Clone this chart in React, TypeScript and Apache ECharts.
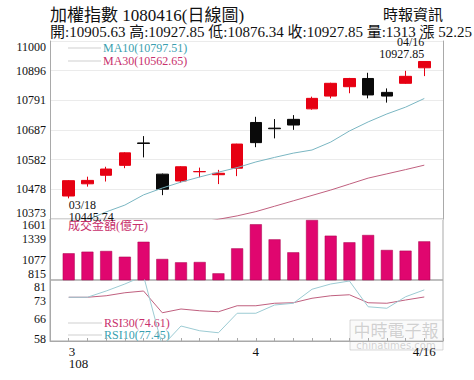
import React, { useEffect, useRef } from 'react';
import * as echarts from 'echarts';

const dates = ['03/18', '03/19', '03/20', '03/21', '03/22', '03/25', '03/26', '03/27', '03/28', '03/29',
  '04/01', '04/02', '04/03', '04/08', '04/09', '04/10', '04/11', '04/12', '04/15', '04/16'];
const openP = [10454, 10497, 10527, 10562, 10641, 10531, 10507, 10539.5, 10529, 10552,
  10713, 10693, 10724, 10761, 10806, 10839, 10868, 10819, 10851, 10905.63];
const closeP = [10508, 10509, 10549, 10606, 10639, 10478, 10557, 10540, 10534, 10637,
  10642, 10691, 10704, 10798, 10851, 10868, 10810, 10806, 10875.6, 10927.85];
const lowP = [10445.74, 10487, 10505, 10552, 10590, 10457, 10501, 10520, 10496, 10524,
  10626, 10657, 10687, 10758, 10798, 10816, 10798, 10783, 10849, 10876.34];
const highP = [10510, 10522, 10557, 10608, 10665, 10533, 10559, 10554, 10546, 10638,
  10733, 10725, 10739, 10804, 10853, 10870, 10888, 10833, 10895, 10927.85];
const ma10 = [10340, 10370, 10398, 10422, 10458, 10482, 10503, 10521, 10538, 10554,
  10574, 10590, 10605, 10616, 10644, 10683, 10715, 10743, 10767, 10797.51];
const ma30: (number | null)[] = [null, null, null, null, null, null, null, 10360, 10372, 10384,
  10399, 10418, 10437, 10456, 10475, 10496, 10517, 10532, 10547, 10562.65];
const volume = [1159, 1180, 1189, 1115, 1308, 1086, 1043, 1047, 901, 1223,
  1533, 1339, 1172, 1588, 1386, 1301, 1395, 1202, 1193, 1313];
const rsi30 = [74.5, 74.5, 75.1, 76.3, 77.0, 68.3, 69.8, 69.1, 68.7, 71.1,
  71.1, 72.1, 72.3, 74.1, 75.1, 75.5, 72.3, 72.1, 73.4, 74.61];
const rsi10 = [74.5, 74.5, 77.0, 79.8, 83.0, 55.0, 63.0, 61.1, 60.3, 68.1,
  68.1, 71.4, 72.1, 77.7, 79.8, 81.0, 70.7, 70.1, 74.7, 77.45];

const priceTicks = [10373, 10478, 10582, 10687, 10791, 10896, 11000];
const volTicks = [815, 1077, 1339, 1601];
const rsiTicks = [58, 66, 73, 81];
const rsiRange = [57, 81.4];
const xTickIdx = [1, 11, 20];
const xTickText = ['3\n108', '4', '4/16'];

const FONT = "'Liberation Serif', 'Noto Sans CJK TC', serif";
const GRAY = '#a9a9a9';
const RED = '#e60012';
const TEAL_T = '#3a9fb0';
const PINK_T = '#c8306c';
const MA10_C = '#7ab6c2';
const MA30_C = '#c0607f';
const VOL_C = '#e0066f';

export default function App() {
  const ref = useRef<HTMLDivElement>(null);
  useEffect(() => {
    document.body.style.margin = '0';
    const chart = echarts.init(ref.current!, undefined, { renderer: 'svg' });
    const cats = ['pre', ...dates, 'post'];
    const pad = (a: any[]) => ['-', ...a.map((v) => (v == null ? '-' : v)), '-'];
    const candles = ['-', ...dates.map((_, i) => [openP[i], closeP[i], lowP[i], highP[i]]), '-'];
    const n = dates.length;
    let lowIdx = 0, highIdx = 0;
    lowP.forEach((v, i) => { if (v < lowP[lowIdx]) lowIdx = i; });
    highP.forEach((v, i) => { if (v >= highP[highIdx]) highIdx = i; });

    const edgeFmt = (lo: number, hi: number) => (v: number) => {
      const r = Math.round(v);
      if (r === hi) return '\n' + r;
      if (r === lo) return r + '\n';
      return String(r);
    };
    const yLabel = (ticks: number[], lo: number, hi: number) => ({
      customValues: ticks,
      formatter: edgeFmt(lo, hi),
      margin: 4,
      color: '#111',
      fontFamily: FONT,
      fontSize: 12,
      lineHeight: 12,
    });
    const last = n - 1;
    const chg = (closeP[last] - closeP[last - 1]).toFixed(2);
    const info = `開:${openP[last].toFixed(2)} 高:${highP[last].toFixed(2)} 低:${lowP[last].toFixed(2)} 收:${closeP[last].toFixed(2)} 量:${volume[last]} 漲 ${chg}`;

    const legendItem = (y: number, text: string, color: string, x0: number) => [
      { type: 'line', shape: { x1: 68, y1: y, x2: x0 - 2, y2: y }, style: { stroke: '#cfcfcf', lineWidth: 1 } },
      { type: 'text', x: x0, y, style: { text, fill: color, font: `12px ${FONT}`, textVerticalAlign: 'middle' } },
    ];

    chart.setOption({
      animation: false,
      backgroundColor: '#fff',
      grid: [
        { left: 50, right: 31, top: 41, height: 178 },
        { left: 50, right: 31, top: 219, height: 61, show: true, borderColor: GRAY, borderWidth: 1 },
        { left: 50, right: 31, top: 280, height: 61, show: true, borderColor: GRAY, borderWidth: 1 },
      ],
      xAxis: [
        { gridIndex: 0, type: 'category', data: cats, boundaryGap: false, axisLine: { show: false }, axisTick: { show: false }, axisLabel: { show: false }, splitLine: { show: false } },
        {
          gridIndex: 1, type: 'category', data: cats, boundaryGap: false, position: 'bottom', offset: 61,
          axisLine: { show: false }, axisTick: { show: false }, splitLine: { show: false },
          axisLabel: {
            interval: 0, align: 'left', margin: 4, color: '#111', fontFamily: FONT, fontSize: 13, lineHeight: 12,
            padding: [0, 0, 0, 0],
            formatter: (_v: string, i: number) => (i === xTickIdx[0] ? xTickText[0] : ''),
          },
        },
        {
          gridIndex: 2, type: 'category', data: cats, boundaryGap: false,
          axisLine: { show: true, lineStyle: { color: GRAY } },
          axisTick: { show: true, inside: true, length: 3, interval: 0, lineStyle: { color: GRAY } },
          splitLine: { show: false },
          axisLabel: {
            interval: 0, margin: 4, color: '#111', fontFamily: FONT, fontSize: 13, lineHeight: 12,
            formatter: (_v: string, i: number) => {
              const k = xTickIdx.indexOf(i);
              return k > 0 ? xTickText[k] : '';
            },
          },
        },
      ],
      yAxis: [
        {
          gridIndex: 0, type: 'value', min: priceTicks[0], max: priceTicks[priceTicks.length - 1], interval: 104.5,
          axisLine: { show: true, lineStyle: { color: GRAY } }, axisTick: { show: false },
          axisLabel: yLabel(priceTicks, priceTicks[0], priceTicks[priceTicks.length - 1]),
          splitLine: { show: true, lineStyle: { color: '#ebebeb', width: 1 } },
        },
        {
          gridIndex: 1, type: 'value', min: volTicks[0], max: volTicks[volTicks.length - 1], interval: 262,
          axisLine: { show: true, lineStyle: { color: GRAY } }, axisTick: { show: false },
          axisLabel: yLabel(volTicks, volTicks[0], volTicks[volTicks.length - 1]),
          splitLine: { show: false },
        },
        {
          gridIndex: 2, type: 'value', min: rsiRange[0], max: rsiRange[1],
          axisLine: { show: true, lineStyle: { color: GRAY } }, axisTick: { show: false },
          axisLabel: yLabel(rsiTicks, -1, rsiTicks[rsiTicks.length - 1]),
          splitLine: { show: false },
        },
        {
          gridIndex: 0, type: 'value', position: 'right', min: priceTicks[0], max: priceTicks[priceTicks.length - 1], interval: 104.5,
          axisLine: { show: true, lineStyle: { color: GRAY } }, axisTick: { show: false },
          axisLabel: { show: false }, splitLine: { show: false },
        },
      ],
      series: [
        {
          type: 'candlestick', xAxisIndex: 0, yAxisIndex: 0, data: candles, barWidth: 12,
          itemStyle: { color: RED, color0: '#0a0a0a', borderColor: RED, borderColor0: '#0a0a0a', borderWidth: 1 },
          markPoint: {
            symbol: 'rect', symbolSize: 0, silent: true,
            label: { show: true, color: '#111', fontFamily: FONT, fontSize: 12, lineHeight: 12 },
            data: [
              {
                coord: [dates[lowIdx], lowP[lowIdx]],
                label: { position: 'bottom', align: 'left', distance: 1, formatter: `${dates[lowIdx]}\n${lowP[lowIdx].toFixed(2)}` },
              },
              {
                coord: [dates[highIdx], highP[highIdx]],
                label: { position: 'top', align: 'right', distance: 1, formatter: `${dates[highIdx]}\n${highP[highIdx].toFixed(2)}` },
              },
            ],
          },
        },
        { type: 'line', xAxisIndex: 0, yAxisIndex: 0, data: pad(ma10), symbol: 'none', clip: true, lineStyle: { color: MA10_C, width: 1 } },
        { type: 'line', xAxisIndex: 0, yAxisIndex: 0, data: pad(ma30), symbol: 'none', clip: true, lineStyle: { color: MA30_C, width: 1 } },
        {
          type: 'bar', xAxisIndex: 1, yAxisIndex: 1, data: pad(volume), barWidth: 12, clip: true,
          itemStyle: { color: VOL_C, borderColor: '#a8004c', borderWidth: 0.5 },
        },
        { type: 'line', xAxisIndex: 2, yAxisIndex: 2, data: pad(rsi30), symbol: 'none', clip: true, lineStyle: { color: MA30_C, width: 1 } },
        { type: 'line', xAxisIndex: 2, yAxisIndex: 2, data: pad(rsi10), symbol: 'none', clip: true, lineStyle: { color: '#9ccbd3', width: 1 } },
      ],
      graphic: [
        { type: 'text', x: 50, y: 15, style: { text: '加權指數 1080416(日線圖)', fill: '#111', font: `17px ${FONT}`, textVerticalAlign: 'middle' } },
        { type: 'text', x: 443, y: 15, style: { text: '時報資訊', fill: '#111', font: `15px ${FONT}`, textAlign: 'right', textVerticalAlign: 'middle' } },
        { type: 'text', x: 50, y: 31.5, style: { text: info, fill: '#111', font: `15px ${FONT}`, textVerticalAlign: 'middle' } },
        ...legendItem(48, `MA10(${ma10[last].toFixed(2)})`, TEAL_T, 103),
        ...legendItem(61, `MA30(${(ma30[last] as number).toFixed(2)})`, PINK_T, 103),
        { type: 'text', x: 68, y: 226, style: { text: '成交金額(億元)', fill: PINK_T, font: `12px ${FONT}`, textVerticalAlign: 'middle' } },
        ...legendItem(323, `RSI30(${rsi30[last].toFixed(2)})`, PINK_T, 104),
        ...legendItem(335, `RSI10(${rsi10[last].toFixed(2)})`, TEAL_T, 104),
        { type: 'rect', shape: { x: 350, y: 320, width: 93, height: 30 }, style: { fill: 'rgba(240,240,240,0.35)', stroke: 'rgba(180,180,180,0.5)', lineWidth: 1 }, z: 0 },
        { type: 'text', x: 396, y: 329.5, style: { text: '中時電子報', fill: 'rgba(130,130,130,0.35)', font: "17px 'Noto Sans CJK TC'", textAlign: 'center', textVerticalAlign: 'middle' } },
        { type: 'text', x: 396, y: 345, style: { text: 'chinatimes.com', fill: 'rgba(130,130,130,0.35)', font: "10px 'DejaVu Sans'", textAlign: 'center', textVerticalAlign: 'middle' } },
      ],
    });
    return () => chart.dispose();
  }, []);
  return <div ref={ref} style={{ position: 'fixed', left: 0, top: 0, width: 474, height: 380 }} />;
}
